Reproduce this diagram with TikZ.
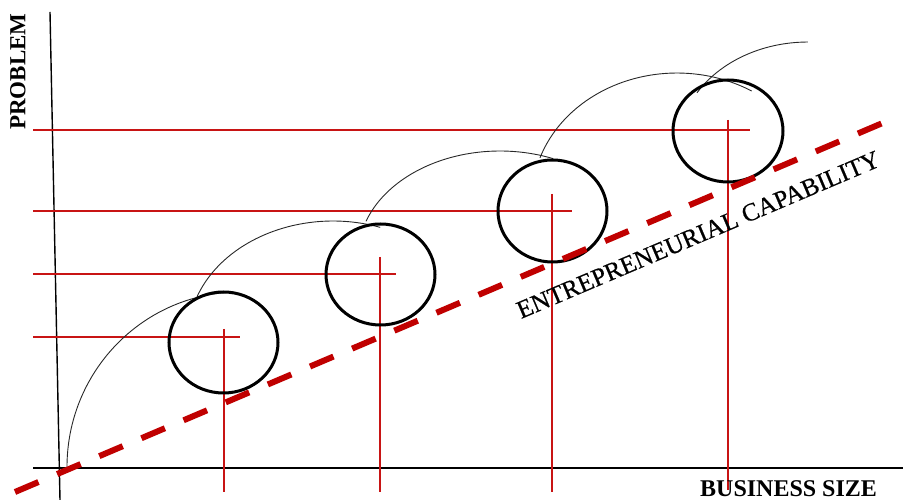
\documentclass[tikz,border=0pt]{standalone}
\usepackage{fontspec}
\setmainfont{Liberation Serif}
\definecolor{lred}{RGB}{200,20,20}
\definecolor{dred}{RGB}{192,0,0}
\definecolor{arcgray}{RGB}{40,40,40}
\begin{document}
\begin{tikzpicture}[x=1pt,y=1pt,
  axis/.style={line width=1.4pt,black},
  guide/.style={line width=1.3pt,lred},
  bubble/.style={line width=3pt,black},
  jump/.style={line width=0.9pt,arcgray},
  trend/.style={line width=6pt,dred,dash pattern=on 25.5pt off 20.3pt},
  lab/.style={inner sep=0pt,anchor=base west}]
\useasboundingbox (0,0) rectangle (903,500);
% axes
\coordinate (ytop) at (50,488);
\coordinate (ybot) at (60,0);
\coordinate (xl) at (33,32);
\coordinate (xr) at (903,32);
\draw[axis] (ytop) -- (ybot);
\draw[axis] (xl) -- (xr);
% circle centres
\coordinate (c1) at (223.5,157.5);
\coordinate (c2) at (380.5,225.5);
\coordinate (c3) at (552.5,289);
\coordinate (c4) at (728,369);
% horizontal guides
\coordinate (h1a) at (33,163);  \coordinate (h1b) at (240,163);
\coordinate (h2a) at (33,226);  \coordinate (h2b) at (396,226);
\coordinate (h3a) at (33,289);  \coordinate (h3b) at (572,289);
\coordinate (h4a) at (33,370);  \coordinate (h4b) at (750,370);
\draw[guide] (h1a) -- (h1b);
\draw[guide] (h2a) -- (h2b);
\draw[guide] (h3a) -- (h3b);
\draw[guide] (h4a) -- (h4b);
% vertical guides
\coordinate (v1a) at (224,171);  \coordinate (v1b) at (224,8);
\coordinate (v2a) at (380,243);  \coordinate (v2b) at (380,8);
\coordinate (v3a) at (552,306);  \coordinate (v3b) at (552,8);
\coordinate (v4a) at (728,380);  \coordinate (v4b) at (728,10);
\draw[guide] (v1a) -- (v1b);
\draw[guide] (v2a) -- (v2b);
\draw[guide] (v3a) -- (v3b);
\draw[guide] (v4a) -- (v4b);
% jump arcs
\coordinate (a1) at (67,33);
\coordinate (a2) at (197,203.2);
\coordinate (a3) at (366,278.7);
\coordinate (a4) at (540,342.2);
\coordinate (a5) at (697,407.2);
\draw[jump] (a1) arc[start angle=180,end angle=92,x radius=173,y radius=175];
\draw[jump] (a2) arc[start angle=159.7,end angle=71,x radius=145,y radius=116];
\draw[jump] (a3) arc[start angle=160.7,end angle=68,x radius=142,y radius=105];
\draw[jump] (a4) arc[start angle=160.9,end angle=59,x radius=145,y radius=126];
\draw[jump] (a5) arc[start angle=148.6,end angle=90,x radius=130,y radius=106];
% bubbles
\draw[bubble] (c1) ellipse[x radius=54.5,y radius=50.5];
\draw[bubble] (c2) ellipse[x radius=54.5,y radius=50.5];
\draw[bubble] (c3) ellipse[x radius=54.5,y radius=51];
\draw[bubble] (c4) ellipse[x radius=55,y radius=51];
% trend line
\coordinate (t1) at (15,8);
\coordinate (t2) at (885,378);
\draw[trend] (t1) -- (t2);
% labels
\node[lab,rotate=90,font=\bfseries\fontsize{23}{23}\selectfont] (py) at (25.3,370) {PROBLEM};
\node[lab,font=\bfseries\fontsize{24}{24}\selectfont] (bx) at (700,3.3) {BUSINESS SIZE};
\node[lab,rotate=23.04,font=\fontsize{25.2}{25.2}\selectfont] (ec) at (521,181) {\addfontfeature{FakeBold=0.6}ENTREPRENEURIAL CAPABILITY};
\end{tikzpicture}
\end{document}
